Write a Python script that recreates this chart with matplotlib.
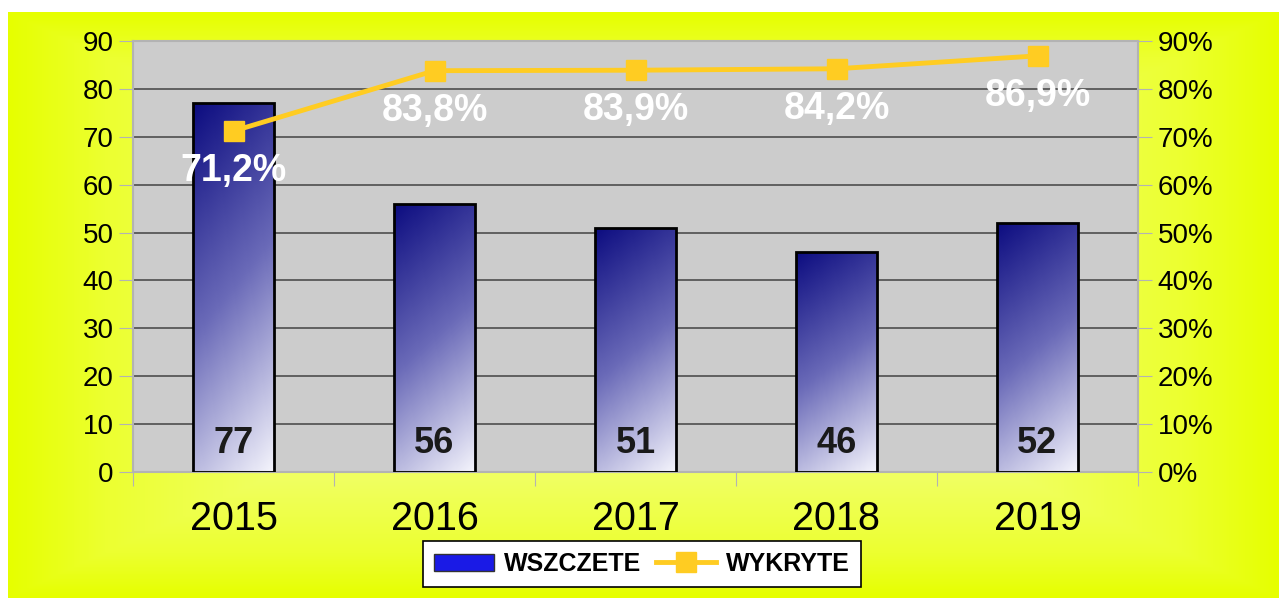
import numpy as np
import matplotlib.pyplot as plt
from matplotlib.colors import LinearSegmentedColormap
from matplotlib.patches import Patch
from matplotlib.lines import Line2D

plt.rcParams['font.family'] = ['Liberation Sans', 'DejaVu Sans']

# dane
years = ['2015', '2016', '2017', '2018', '2019']
wszczete = [77, 56, 51, 46, 52]
wykryte = [71.2, 83.8, 83.9, 84.2, 86.9]
wykryte_labels = ['71,2%', '83,8%', '83,9%', '84,2%', '86,9%']

LINE_COLOR = '#FFCC22'

fig = plt.figure(figsize=(12.79, 5.98), dpi=100, facecolor='white')

# tlo - zolty gradient
bg = fig.add_axes([8 / 1279, 0, 1 - 8 / 1279, 1 - 12 / 598], zorder=-10)
gy, gx = np.mgrid[-1:1:300j, -1:1:600j]
d = np.maximum(np.abs(gx), np.abs(gy))
bg_cmap = LinearSegmentedColormap.from_list(
    'bg', [(0, '#F4FF80'), (0.6, '#F0FF60'), (0.85, '#ECFF30'), (1, '#E6FF00')])
bg.imshow(d, cmap=bg_cmap, aspect='auto', extent=[0, 1, 0, 1])
bg.set_axis_off()

ax = fig.add_axes([133 / 1279, 1 - 472 / 598, 1005 / 1279, 431 / 598])
ax.set_facecolor('#CCCCCC')
ax.set_yticks(range(0, 91, 10))
ax.yaxis.grid(True, color='#4D4D4D', linewidth=1.2)
ax.set_axisbelow(True)
ax.set_xticks(np.arange(len(years) + 1) - 0.5, minor=False)
ax.set_xticklabels([])
ax.set_xticks(range(len(years)), minor=True)
ax.set_xticklabels(years, minor=True, fontsize=28.5)
ax.tick_params(axis='x', which='minor', length=0, pad=20)
ax.tick_params(axis='x', which='major', length=10, color='#B3B3B3', direction='out')
ax.tick_params(axis='y', length=10, color='#B3B3B3', labelsize=20, pad=4)
for s in ax.spines.values():
    s.set_color('#B3B3B3')
    s.set_linewidth(1.5)

# slupki z gradientem (ciemne u gory, jasne u dolu)
bar_cmap = LinearSegmentedColormap.from_list('bar', ['#0C0C80', '#6A6AB8', '#F4F4FC'])
bars = ax.bar(range(len(years)), wszczete, width=0.4, facecolor='none',
              edgecolor='black', linewidth=2, zorder=3)
yy, xx = np.mgrid[0:1:200j, 0:1:60j]
grad = (xx * 81 + (1 - yy) * 300) / 381
for b, val in zip(bars, wszczete):
    x0, w, h = b.get_x(), b.get_width(), b.get_height()
    im = ax.imshow(grad, cmap=bar_cmap, extent=[x0, x0 + w, 0, h], aspect='auto',
                   origin='lower', zorder=2, interpolation='bilinear')
    im.set_clip_path(b)
    ax.text(x0 + w / 2, 6, str(val), ha='center', va='center',
            fontsize=26, fontweight='bold', color='#1A1A1A', zorder=4)
ax.set_xlim(-0.5, len(years) - 0.5)
ax.set_ylim(0, 90)

# os prawa - procenty
ax2 = ax.twinx()
ax2.set_ylim(0, 90)
ax2.set_yticks(range(0, 91, 10))
ax2.set_yticklabels([f'{v}%' for v in range(0, 91, 10)])
ax2.tick_params(axis='y', length=10, color='#B3B3B3', labelsize=20, pad=4)
for s in ax2.spines.values():
    s.set_visible(False)
ax2.plot(range(len(years)), wykryte, color=LINE_COLOR, linewidth=3.5,
         marker='s', markersize=14, zorder=5)
for i, (v, lab) in enumerate(zip(wykryte, wykryte_labels)):
    ax2.annotate(lab, (i, v), xytext=(0, -29), textcoords='offset points',
                 ha='center', va='center', fontsize=27, fontweight='bold', color='white')

# legenda
handles = [Patch(facecolor='#1A1AE6', edgecolor='#333333', linewidth=1),
           Line2D([], [], color=LINE_COLOR, linewidth=3.5, marker='s', markersize=14)]
leg = fig.legend(handles, ['WSZCZETE', 'WYKRYTE'], loc='center',
                 bbox_to_anchor=(642 / 1279, 1 - 564 / 598), ncol=2,
                 prop={'weight': 'bold', 'size': 18}, frameon=True, fancybox=False,
                 edgecolor='black', framealpha=1, handlelength=2.4, handleheight=0.7,
                 columnspacing=0.6, handletextpad=0.4, borderpad=0.45, borderaxespad=0)
leg.get_frame().set_linewidth(1.2)

fig.savefig('out.png', dpi=100, facecolor=fig.get_facecolor())
